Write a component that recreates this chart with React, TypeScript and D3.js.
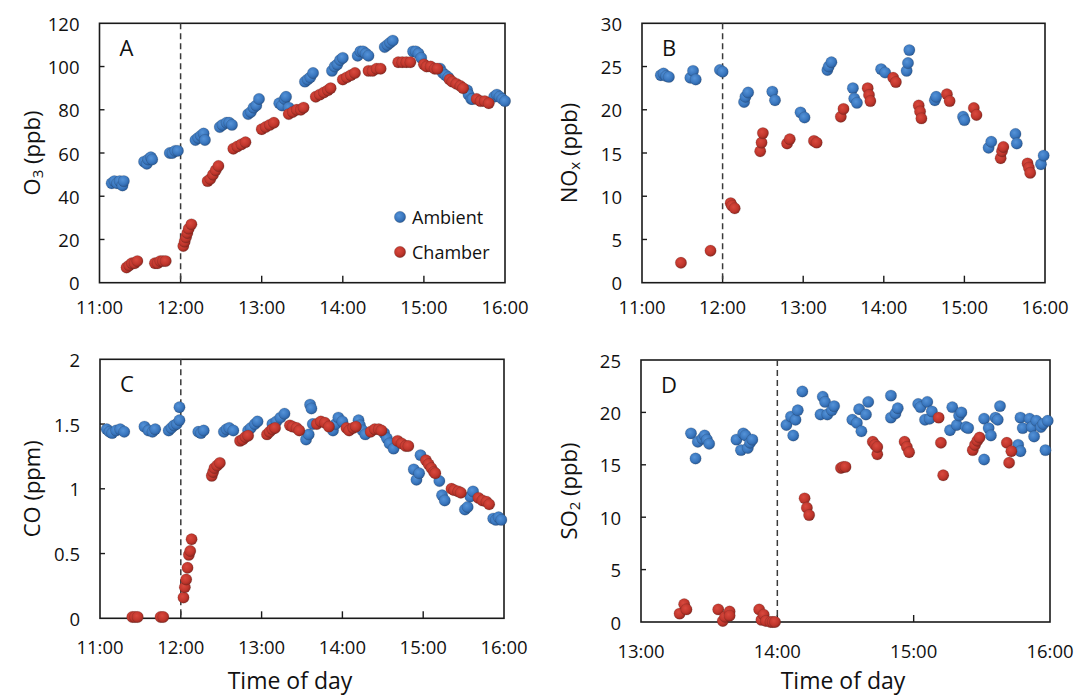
import { useRef, useEffect } from 'react'
import * as d3 from 'd3'

// ---- data (time of day, value) ----
const hourTicksAC = ['11:00', '12:00', '13:00', '14:00', '15:00', '16:00']
const hourTicksD = ['13:00', '14:00', '15:00', '16:00']
const o3Ticks = [0, 20, 40, 60, 80, 100, 120]
const noxTicks = [0, 5, 10, 15, 20, 25, 30]
const coTicks = [0, 0.5, 1, 1.5, 2]
const so2Ticks = [0, 5, 10, 15, 20, 25]

const o3Ambient: [string, number][] = [
  ['11:09', 46], ['11:11', 47], ['11:13', 46], ['11:15', 47], ['11:17', 45], ['11:18', 47],
  ['11:33', 56], ['11:35', 55], ['11:36', 57], ['11:38', 58], ['11:39', 57],
  ['11:52', 60], ['11:54', 60], ['11:56', 61], ['11:58', 61],
  ['12:11', 66], ['12:13', 67], ['12:15', 68], ['12:17', 69], ['12:18', 66],
  ['12:29', 72], ['12:31', 73], ['12:34', 74], ['12:36', 74], ['12:38', 73],
  ['12:50', 78], ['12:52', 79], ['12:54', 81], ['12:56', 82], ['12:58', 85],
  ['13:13', 83], ['13:15', 82], ['13:17', 85], ['13:18', 86], ['13:20', 81],
  ['13:32', 93], ['13:34', 94], ['13:36', 95], ['13:38', 97],
  ['13:52', 98], ['13:54', 100], ['13:56', 101], ['13:58', 103], ['14:00', 104],
  ['14:11', 105], ['14:13', 107], ['14:15', 107], ['14:17', 106], ['14:19', 105],
  ['14:31', 109], ['14:33', 110], ['14:35', 111], ['14:37', 112],
  ['14:52', 107], ['14:54', 107], ['14:56', 106], ['14:58', 104],
  ['15:12', 99], ['15:14', 97], ['15:16', 96], ['15:18', 95],
  ['15:32', 89], ['15:33', 87], ['15:35', 85], ['15:36', 85],
  ['15:52', 86], ['15:54', 87], ['15:56', 86], ['15:58', 85], ['16:00', 84],
]
const o3Chamber: [string, number][] = [
  ['11:20', 7], ['11:22', 8], ['11:24', 9], ['11:26', 9], ['11:28', 10],
  ['11:41', 9], ['11:43', 9], ['11:45', 10], ['11:47', 10], ['11:49', 10],
  ['12:02', 17], ['12:03', 19], ['12:04', 21], ['12:05', 23], ['12:06', 25], ['12:08', 27],
  ['12:20', 47], ['12:22', 48], ['12:24', 50], ['12:26', 52], ['12:28', 54],
  ['12:39', 62], ['12:42', 63], ['12:45', 64], ['12:48', 65],
  ['13:00', 71], ['13:03', 72], ['13:06', 73], ['13:09', 74],
  ['13:20', 78], ['13:23', 79], ['13:26', 80], ['13:29', 80], ['13:31', 81],
  ['13:40', 86], ['13:43', 87], ['13:46', 88], ['13:49', 89], ['13:51', 90],
  ['14:00', 94], ['14:03', 95], ['14:06', 96], ['14:09', 97],
  ['14:19', 98], ['14:22', 98], ['14:25', 99], ['14:28', 99],
  ['14:41', 102], ['14:44', 102], ['14:47', 102], ['14:50', 102],
  ['15:00', 101], ['15:02', 100], ['15:05', 100], ['15:08', 99], ['15:10', 99],
  ['15:19', 94], ['15:21', 93], ['15:24', 92], ['15:27', 91], ['15:29', 90],
  ['15:39', 85], ['15:42', 84], ['15:45', 84], ['15:48', 83],
]

const noxAmbient: [string, number][] = [
  ['11:14', 24.0], ['11:16', 24.2], ['11:18', 23.9], ['11:20', 23.8],
  ['11:36', 23.7], ['11:38', 24.5], ['11:40', 23.5],
  ['11:58', 24.6], ['12:00', 24.4],
  ['12:16', 20.9], ['12:17', 21.5], ['12:19', 22.0],
  ['12:37', 22.1], ['12:39', 21.1],
  ['12:58', 19.7], ['13:01', 19.1],
  ['13:18', 24.6], ['13:19', 25.0], ['13:21', 25.5],
  ['13:37', 22.5], ['13:38', 21.3], ['13:40', 20.8],
  ['13:58', 24.7], ['14:01', 24.3],
  ['14:17', 24.5], ['14:18', 25.4], ['14:19', 26.9],
  ['14:38', 21.1], ['14:39', 21.5],
  ['14:59', 19.2], ['15:00', 18.8],
  ['15:18', 15.6], ['15:20', 16.3],
  ['15:38', 17.2], ['15:39', 16.1],
  ['15:57', 13.7], ['15:59', 14.7],
]
const noxChamber: [string, number][] = [
  ['11:29', 2.3], ['11:51', 3.7],
  ['12:06', 9.2], ['12:07', 8.9], ['12:09', 8.6],
  ['12:28', 15.2], ['12:29', 16.2], ['12:30', 17.3],
  ['12:48', 16.1], ['12:50', 16.6],
  ['13:08', 16.4], ['13:10', 16.2],
  ['13:28', 19.2], ['13:30', 20.1],
  ['13:48', 22.5], ['13:49', 21.7], ['13:50', 21.0],
  ['14:07', 23.7], ['14:09', 23.2],
  ['14:26', 20.5], ['14:27', 19.8], ['14:28', 19.0],
  ['14:47', 21.8], ['14:49', 21.0],
  ['15:07', 20.2], ['15:09', 19.4],
  ['15:27', 14.4], ['15:28', 15.2], ['15:29', 15.7],
  ['15:47', 13.8], ['15:48', 13.3], ['15:49', 12.7],
]

const coAmbient: [string, number][] = [
  ['11:05', 1.46], ['11:07', 1.44], ['11:09', 1.43], ['11:12', 1.45], ['11:15', 1.46], ['11:18', 1.44],
  ['11:33', 1.48], ['11:36', 1.45], ['11:39', 1.44], ['11:41', 1.46],
  ['11:51', 1.45], ['11:53', 1.47], ['11:55', 1.49], ['11:57', 1.5], ['11:59', 1.53], ['11:59', 1.63],
  ['12:13', 1.44], ['12:15', 1.43], ['12:17', 1.45],
  ['12:32', 1.44], ['12:34', 1.46], ['12:36', 1.47], ['12:39', 1.45],
  ['12:50', 1.45], ['12:52', 1.47], ['12:55', 1.5], ['12:57', 1.52],
  ['13:08', 1.5], ['13:11', 1.52], ['13:14', 1.55], ['13:17', 1.58],
  ['13:33', 1.38], ['13:35', 1.42], ['13:36', 1.65], ['13:37', 1.62], ['13:38', 1.5],
  ['13:53', 1.45], ['13:55', 1.5], ['13:57', 1.55], ['14:00', 1.52],
  ['14:12', 1.53], ['14:13', 1.49], ['14:15', 1.45], ['14:17', 1.42],
  ['14:31', 1.43], ['14:33', 1.39], ['14:35', 1.35], ['14:38', 1.31],
  ['14:53', 1.15], ['14:55', 1.07], ['14:57', 1.12], ['14:58', 1.26],
  ['15:12', 1.06], ['15:14', 0.95], ['15:16', 0.91],
  ['15:31', 0.84], ['15:33', 0.86], ['15:35', 0.94], ['15:37', 0.98],
  ['15:52', 0.77], ['15:54', 0.76], ['15:56', 0.78], ['15:58', 0.76],
]
const coChamber: [string, number][] = [
  ['11:24', 0.01], ['11:26', 0.01], ['11:28', 0.01],
  ['11:45', 0.01], ['11:47', 0.01],
  ['12:02', 0.16], ['12:03', 0.24], ['12:04', 0.3], ['12:05', 0.39], ['12:06', 0.49], ['12:07', 0.52], ['12:08', 0.61],
  ['12:23', 1.1], ['12:24', 1.13], ['12:25', 1.16], ['12:27', 1.18], ['12:29', 1.2],
  ['12:44', 1.37], ['12:46', 1.38], ['12:48', 1.4], ['12:50', 1.41],
  ['13:04', 1.42], ['13:06', 1.44], ['13:08', 1.46], ['13:10', 1.47],
  ['13:21', 1.49], ['13:23', 1.48], ['13:26', 1.47], ['13:28', 1.45],
  ['13:41', 1.5], ['13:44', 1.52], ['13:47', 1.51], ['13:50', 1.48],
  ['14:03', 1.47], ['14:05', 1.45], ['14:08', 1.47], ['14:10', 1.48],
  ['14:21', 1.44], ['14:24', 1.46], ['14:27', 1.46], ['14:29', 1.45],
  ['14:41', 1.37], ['14:44', 1.35], ['14:47', 1.33], ['14:49', 1.33],
  ['15:02', 1.22], ['15:04', 1.19], ['15:06', 1.16], ['15:08', 1.13], ['15:09', 1.12],
  ['15:21', 1.0], ['15:23', 0.99], ['15:26', 0.98], ['15:28', 0.97],
  ['15:41', 0.93], ['15:44', 0.91], ['15:47', 0.9], ['15:49', 0.88],
]

const so2Ambient: [string, number][] = [
  ['13:22', 18.0], ['13:24', 15.6], ['13:25', 17.2], ['13:27', 17.5], ['13:28', 17.8], ['13:29', 17.4], ['13:30', 17.0],
  ['13:42', 17.4], ['13:44', 16.4], ['13:45', 18.0], ['13:46', 17.8], ['13:47', 16.6], ['13:48', 17.1], ['13:49', 17.4],
  ['14:04', 18.8], ['14:06', 19.6], ['14:07', 17.8], ['14:08', 19.3], ['14:09', 20.2], ['14:11', 22.0],
  ['14:19', 19.8], ['14:20', 21.5], ['14:21', 21.0], ['14:22', 19.8], ['14:24', 20.2], ['14:25', 20.6],
  ['14:33', 19.3], ['14:35', 19.0], ['14:36', 20.3], ['14:37', 18.2], ['14:39', 19.8], ['14:40', 21.0],
  ['14:50', 21.6], ['14:50', 19.5], ['14:52', 19.9], ['14:53', 20.4],
  ['15:02', 20.8], ['15:03', 20.5], ['15:05', 19.3], ['15:06', 21.0], ['15:07', 19.4], ['15:08', 20.1],
  ['15:16', 18.3], ['15:17', 20.5], ['15:19', 18.8], ['15:20', 19.7], ['15:21', 20.0], ['15:23', 18.6], ['15:24', 18.5],
  ['15:31', 15.5], ['15:31', 19.4], ['15:33', 18.5], ['15:34', 17.8], ['15:36', 19.5], ['15:37', 19.3], ['15:38', 20.6],
  ['15:46', 16.9], ['15:47', 16.3], ['15:47', 19.5], ['15:48', 18.5], ['15:51', 19.4], ['15:52', 18.6],
  ['15:53', 17.7], ['15:54', 19.2], ['15:56', 18.6], ['15:57', 18.9], ['15:58', 16.4], ['15:59', 19.2],
]
const so2Chamber: [string, number][] = [
  ['13:17', 0.8], ['13:19', 1.7], ['13:20', 1.2],
  ['13:34', 1.2], ['13:36', 0.1], ['13:37', 0.5], ['13:39', 1.0], ['13:39', 0.6],
  ['13:52', 1.2], ['13:53', 0.2], ['13:54', 0.7], ['13:55', 0.1], ['13:57', 0.0], ['13:58', 0.0], ['13:59', 0.0],
  ['14:12', 11.8], ['14:13', 10.9], ['14:14', 10.2],
  ['14:28', 14.7], ['14:29', 14.8], ['14:30', 14.8],
  ['14:42', 17.2], ['14:43', 16.9], ['14:44', 16.0], ['14:44', 16.7],
  ['14:56', 17.2], ['14:57', 16.7], ['14:58', 16.2],
  ['15:11', 19.5], ['15:12', 17.1], ['15:13', 14.0],
  ['15:26', 16.4], ['15:27', 16.9], ['15:28', 17.3], ['15:29', 17.6],
  ['15:41', 17.1], ['15:42', 15.2], ['15:43', 16.3],
]

const FONT = "'Open Sans', sans-serif"
const parseTime = d3.timeParse('%H:%M')

const panels = [
  { letter: 'A', box: [99.5, 23.3, 505, 282.7], xTicks: hourTicksAC, yTicks: o3Ticks, start: '12:00',
    title: ['O', '3', ' (ppb)'], titleX: 31, ambient: o3Ambient, chamber: o3Chamber, legend: true, xTitle: null },
  { letter: 'B', box: [642, 23.3, 1045, 282.7], xTicks: hourTicksAC, yTicks: noxTicks, start: '12:00',
    title: ['NO', 'x', ' (ppb)'], titleX: 568, ambient: noxAmbient, chamber: noxChamber, legend: false, xTitle: null },
  { letter: 'C', box: [100, 359.3, 504, 618.3], xTicks: hourTicksAC, yTicks: coTicks, start: '12:00',
    title: ['CO (ppm)', '', ''], titleX: 31, ambient: coAmbient, chamber: coChamber, legend: false, xTitle: 290 },
  { letter: 'D', box: [641, 360, 1050, 622], xTicks: hourTicksD, yTicks: so2Ticks, start: '14:00',
    title: ['SO', '2', ' (ppb)'], titleX: 568, ambient: so2Ambient, chamber: so2Chamber, legend: false, xTitle: 843 },
]

export default function App() {
  const svgRef = useRef<SVGSVGElement>(null)

  useEffect(() => {
    const svg = d3.select(svgRef.current)
    svg.selectAll('*').remove()

    const defs = svg.append('defs')
    const grad = (id: string, c0: string, c1: string, c2: string) => {
      const g = defs.append('radialGradient').attr('id', id).attr('cx', '40%').attr('cy', '38%').attr('r', '62%')
      g.append('stop').attr('offset', '0%').attr('stop-color', c0)
      g.append('stop').attr('offset', '65%').attr('stop-color', c1)
      g.append('stop').attr('offset', '100%').attr('stop-color', c2)
    }
    grad('gAmb', '#5593d8', '#3a77bf', '#2a5d9c')
    grad('gCham', '#d9493e', '#c0362c', '#932820')

    panels.forEach((p) => {
      const [x0, y0, x1, y1] = p.box
      const x = d3.scaleTime()
        .domain([parseTime(p.xTicks[0])!, parseTime(p.xTicks[p.xTicks.length - 1])!])
        .range([x0, x1])
      const y = d3.scaleLinear()
        .domain([p.yTicks[0], p.yTicks[p.yTicks.length - 1]])
        .range([y1, y0])
      const g = svg.append('g')

      // frame
      g.append('rect').attr('x', x0).attr('y', y0).attr('width', x1 - x0).attr('height', y1 - y0)
        .attr('fill', 'none').attr('stroke', '#1a1a1a').attr('stroke-width', 1.6)

      // inside tick marks
      p.xTicks.slice(1, -1).forEach((t) => {
        const xv = x(parseTime(t)!)
        g.append('line').attr('x1', xv).attr('x2', xv).attr('y1', y1).attr('y2', y1 - 7)
          .attr('stroke', '#1a1a1a').attr('stroke-width', 1.4)
      })
      p.yTicks.slice(1, -1).forEach((t) => {
        g.append('line').attr('x1', x0).attr('x2', x0 + 5).attr('y1', y(t)).attr('y2', y(t))
          .attr('stroke', '#1a1a1a').attr('stroke-width', 1.4)
      })

      // tick labels
      const labelGap = y0 < 100 ? 24 : 28
      p.xTicks.forEach((t) => {
        g.append('text').attr('x', x(parseTime(t)!)).attr('y', y1 + labelGap)
          .attr('text-anchor', 'middle').attr('dominant-baseline', 'central')
          .attr('font-family', FONT).attr('font-size', 18.5).attr('fill', '#111').text(t)
      })
      p.yTicks.forEach((t) => {
        g.append('text').attr('x', x0 - 20).attr('y', y(t))
          .attr('text-anchor', 'end').attr('dominant-baseline', 'central')
          .attr('font-family', FONT).attr('font-size', 18.5).attr('fill', '#111').text(String(t))
      })

      // y title
      const yt = g.append('text')
        .attr('transform', `translate(${p.titleX},${(y0 + y1) / 2}) rotate(-90)`)
        .attr('text-anchor', 'middle').attr('dominant-baseline', 'central')
        .attr('font-family', FONT).attr('font-size', 22).attr('fill', '#111')
      yt.append('tspan').text(p.title[0])
      if (p.title[1]) {
        yt.append('tspan').attr('font-size', 15).attr('dy', 6).text(p.title[1])
        yt.append('tspan').attr('dy', -6).text(p.title[2])
      }

      // x title
      if (p.xTitle) {
        g.append('text').attr('x', p.xTitle).attr('y', 680)
          .attr('text-anchor', 'middle').attr('dominant-baseline', 'central')
          .attr('font-family', FONT).attr('font-size', 23).attr('fill', '#111').text('Time of day')
      }

      // panel letter
      g.append('text').attr('x', x0 + 20).attr('y', y0 + 24)
        .attr('dominant-baseline', 'central')
        .attr('font-family', FONT).attr('font-size', 22).attr('fill', '#111').text(p.letter)

      // dashed start line
      const xs = x(parseTime(p.start)!)
      g.append('line').attr('x1', xs).attr('x2', xs).attr('y1', y0).attr('y2', y1)
        .attr('stroke', '#3a3a3a').attr('stroke-width', 1.5).attr('stroke-dasharray', '6,4')

      // points
      const dots = (data: [string, number][], fill: string) => {
        g.append('g').selectAll('circle').data(data).join('circle')
          .attr('cx', (d) => x(parseTime(d[0])!))
          .attr('cy', (d) => y(d[1]))
          .attr('r', 5.7)
          .attr('fill', fill)
          .attr('stroke', 'rgba(30,30,30,0.25)')
          .attr('stroke-width', 0.6)
      }
      dots(p.ambient, 'url(#gAmb)')
      dots(p.chamber, 'url(#gCham)')

      // legend
      if (p.legend) {
        const items: [string, string, number][] = [['Ambient', 'url(#gAmb)', 217], ['Chamber', 'url(#gCham)', 252]]
        items.forEach(([label, fill, ly]) => {
          g.append('circle').attr('cx', 400).attr('cy', ly).attr('r', 5.7).attr('fill', fill)
            .attr('stroke', 'rgba(30,30,30,0.25)').attr('stroke-width', 0.6)
          g.append('text').attr('x', 412).attr('y', ly).attr('dominant-baseline', 'central')
            .attr('font-family', FONT).attr('font-size', 18).attr('fill', '#111').text(label)
        })
      }
    })
  }, [])

  return (
    <div style={{ position: 'absolute', left: 0, top: 0, background: '#fff' }}>
      <svg ref={svgRef} width={1078} height={695} style={{ display: 'block' }} />
    </div>
  )
}
